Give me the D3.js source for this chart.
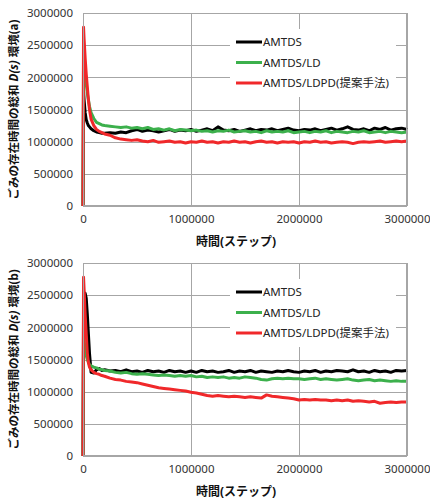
<!DOCTYPE html>
<html><head><meta charset="utf-8">
<script src="https://cdn.jsdelivr.net/npm/d3@7"></script>
<style>body{margin:0;background:#fff;} svg{display:block;}</style>
</head><body>
<svg id="c" width="430" height="501"></svg>
<script>
const steps = [0,5000,10000,20000,30000,40000,50000,60000,75000,100000,125000,150000,175000,200000,
 250000,300000,350000,400000,450000,500000,550000,600000,650000,700000,750000,800000,850000,900000,950000,
 1000000,1050000,1100000,1150000,1200000,1250000,1300000,1350000,1400000,1450000,1500000,1550000,1600000,1650000,1700000,1750000,1800000,1850000,1900000,1950000,
 2000000,2050000,2100000,2150000,2200000,2250000,2300000,2350000,2400000,2450000,2500000,2550000,2600000,2650000,2700000,2750000,2800000,2850000,2900000,2950000,3000000];

const yTicks = [0,500000,1000000,1500000,2000000,2500000,3000000];
const xTicks = [0,1000000,2000000,3000000];
const seriesNames = ["AMTDS","AMTDS/LD","AMTDS/LDPD(提案手法)"];
const seriesColors = ["#000000","#3cb04c","#f0282a"];

// Environment (a)
const amtdsA = [0,1780000,1650000,1450000,1340000,1290000,1250000,1230000,1200000,1170000,1150000,1140000,1130000,1130000,
 1140000,1130000,1150000,1140000,1170000,1190000,1160000,1180000,1170000,1150000,1170000,1190000,1160000,1180000,1170000,
 1190000,1160000,1180000,1200000,1170000,1230000,1180000,1170000,1190000,1160000,1180000,1200000,1170000,1190000,1180000,1200000,1170000,1190000,1210000,1180000,
 1170000,1190000,1180000,1200000,1170000,1190000,1210000,1180000,1200000,1230000,1190000,1180000,1200000,1170000,1210000,1190000,1220000,1180000,1200000,1210000,1190000];
const ldA = [0,2400000,2350000,2100000,1900000,1750000,1650000,1550000,1450000,1360000,1300000,1280000,1260000,1250000,
 1240000,1230000,1220000,1230000,1210000,1220000,1200000,1220000,1190000,1200000,1180000,1200000,1170000,1190000,1180000,
 1170000,1180000,1160000,1170000,1150000,1170000,1160000,1180000,1150000,1160000,1170000,1150000,1160000,1140000,1170000,1150000,1160000,1150000,1170000,1140000,
 1150000,1160000,1140000,1160000,1150000,1170000,1140000,1160000,1150000,1140000,1160000,1150000,1170000,1140000,1150000,1160000,1140000,1160000,1150000,1140000,1150000];
const ldpdA = [0,2780000,2600000,2300000,2050000,1850000,1650000,1500000,1350000,1250000,1190000,1160000,1140000,1120000,
 1100000,1060000,1040000,1030000,1020000,1030000,1010000,1000000,1020000,990000,1000000,1010000,990000,1000000,980000,
 1000000,990000,1010000,990000,1000000,980000,1000000,990000,1010000,990000,1000000,980000,1000000,1010000,990000,1000000,980000,1000000,990000,1000000,
 980000,1000000,990000,1010000,990000,1000000,980000,990000,1000000,990000,970000,990000,1000000,990000,1000000,1010000,990000,1000000,1010000,1000000,1010000];

// Environment (b)
const amtdsB = [0,2300000,2480000,2530000,2450000,2200000,1900000,1600000,1300000,1290000,1340000,1360000,1330000,1340000,
 1320000,1330000,1310000,1340000,1310000,1320000,1300000,1330000,1310000,1320000,1300000,1330000,1310000,1320000,1300000,
 1320000,1300000,1330000,1310000,1320000,1300000,1310000,1330000,1300000,1320000,1310000,1330000,1300000,1320000,1310000,1300000,1320000,1310000,1330000,1310000,
 1300000,1320000,1310000,1330000,1300000,1320000,1310000,1330000,1320000,1310000,1340000,1310000,1320000,1300000,1330000,1310000,1320000,1300000,1330000,1320000,1330000];
const ldB = [0,1850000,1800000,1650000,1560000,1500000,1460000,1420000,1400000,1380000,1370000,1350000,1340000,1330000,
 1320000,1300000,1290000,1300000,1280000,1270000,1280000,1270000,1260000,1250000,1260000,1250000,1240000,1250000,1240000,
 1250000,1230000,1240000,1220000,1230000,1220000,1230000,1210000,1220000,1210000,1230000,1220000,1210000,1190000,1180000,1200000,1210000,1200000,1210000,1200000,
 1200000,1190000,1200000,1210000,1190000,1200000,1190000,1180000,1190000,1200000,1180000,1170000,1180000,1190000,1170000,1180000,1170000,1160000,1170000,1160000,1160000];
const ldpdB = [0,2780000,2600000,2200000,1900000,1600000,1450000,1380000,1340000,1300000,1280000,1270000,1250000,1240000,
 1210000,1190000,1180000,1160000,1150000,1140000,1120000,1100000,1080000,1060000,1050000,1040000,1030000,1020000,1010000,
 990000,980000,960000,940000,930000,940000,930000,920000,930000,920000,910000,920000,910000,900000,950000,930000,920000,910000,900000,890000,
 870000,880000,870000,880000,870000,870000,860000,870000,860000,870000,850000,860000,850000,840000,850000,820000,830000,840000,830000,840000,840000];

const svg = d3.select("#c");
const FONT = "'Noto Sans','Noto Sans CJK JP',sans-serif";

function drawChart(offY, data, envLabel){
  const L=83, R=407, T=13+offY, B=206+offY;
  const x = d3.scaleLinear().domain([0,3000000]).range([L,R]);
  const y = d3.scaleLinear().domain([0,3000000]).range([B,T]);
  const g = svg.append("g");
  // grid
  g.append("g").selectAll("line").data(yTicks).join("line")
    .attr("x1",L).attr("x2",R).attr("y1",d=>Math.round(y(d))+0.5).attr("y2",d=>Math.round(y(d))+0.5)
    .attr("stroke","#a6a6a6").attr("stroke-width",1);
  g.append("g").selectAll("line").data(xTicks).join("line")
    .attr("y1",T).attr("y2",B).attr("x1",d=>Math.round(x(d))+0.5).attr("x2",d=>Math.round(x(d))+0.5)
    .attr("stroke","#a6a6a6").attr("stroke-width",1);
  // axes labels
  const ya = d3.axisLeft(y).tickValues(yTicks).tickFormat(d3.format("d")).tickSize(0).tickPadding(10);
  const yg = g.append("g").attr("transform",`translate(${L},0)`).call(ya);
  yg.select(".domain").remove();
  yg.selectAll("text").attr("font-family",FONT).attr("font-size",11.5).attr("fill","#333");
  const xa = d3.axisBottom(x).tickValues(xTicks).tickFormat(d3.format("d")).tickSize(0).tickPadding(9);
  const xg = g.append("g").attr("transform",`translate(0,${B})`).call(xa);
  xg.select(".domain").remove();
  xg.selectAll("text").attr("font-family",FONT).attr("font-size",11.5).attr("fill","#333");

  // legend background
  g.append("rect").attr("x",230).attr("y",29+offY).attr("width",166).attr("height",68).attr("fill","#fff");

  // lines
  const line = d3.line().x((d,i)=>x(steps[i])).y(d=>y(d));
  data.forEach((s,k)=>{
    g.append("path").datum(s).attr("d",line).attr("fill","none")
      .attr("stroke",seriesColors[k]).attr("stroke-width",3).attr("stroke-linejoin","round");
  });
  // legend
  const lg = g.append("g");
  seriesNames.forEach((n,k)=>{
    const yy = 42 + offY + k*20.5;
    lg.append("line").attr("x1",236).attr("x2",262).attr("y1",yy).attr("y2",yy)
      .attr("stroke",seriesColors[k]).attr("stroke-width",3);
    lg.append("text").attr("x",263).attr("y",yy+4).text(n)
      .attr("font-family",FONT).attr("font-size",11.5).attr("fill","#222");
  });
  // border
  g.append("rect").attr("x",L+0.5).attr("y",T+0.5).attr("width",R-L-1).attr("height",B-T-1)
    .attr("fill","none").attr("stroke","#a6a6a6");
  // x title
  g.append("text").attr("x",236).attr("y",B+40).attr("text-anchor","middle")
    .attr("font-family",FONT).attr("font-size",12).attr("font-weight","bold").attr("fill","#111")
    .text("時間(ステップ)");
  // y title
  const yt = g.append("text").attr("transform",`translate(18,${(T+B)/2}) rotate(-90)`)
    .attr("text-anchor","middle").attr("font-family",FONT).attr("font-size",11.5)
    .attr("font-weight","bold").attr("fill","#111");
  yt.append("tspan").text("ごみの存在時間の総和 ");
  yt.append("tspan").attr("font-style","italic").text("D(s)");
  yt.append("tspan").text("  環境" + envLabel);
}

drawChart(0, [amtdsA, ldA, ldpdA], "(a)");
drawChart(250, [amtdsB, ldB, ldpdB], "(b)");
</script>
</body></html>
